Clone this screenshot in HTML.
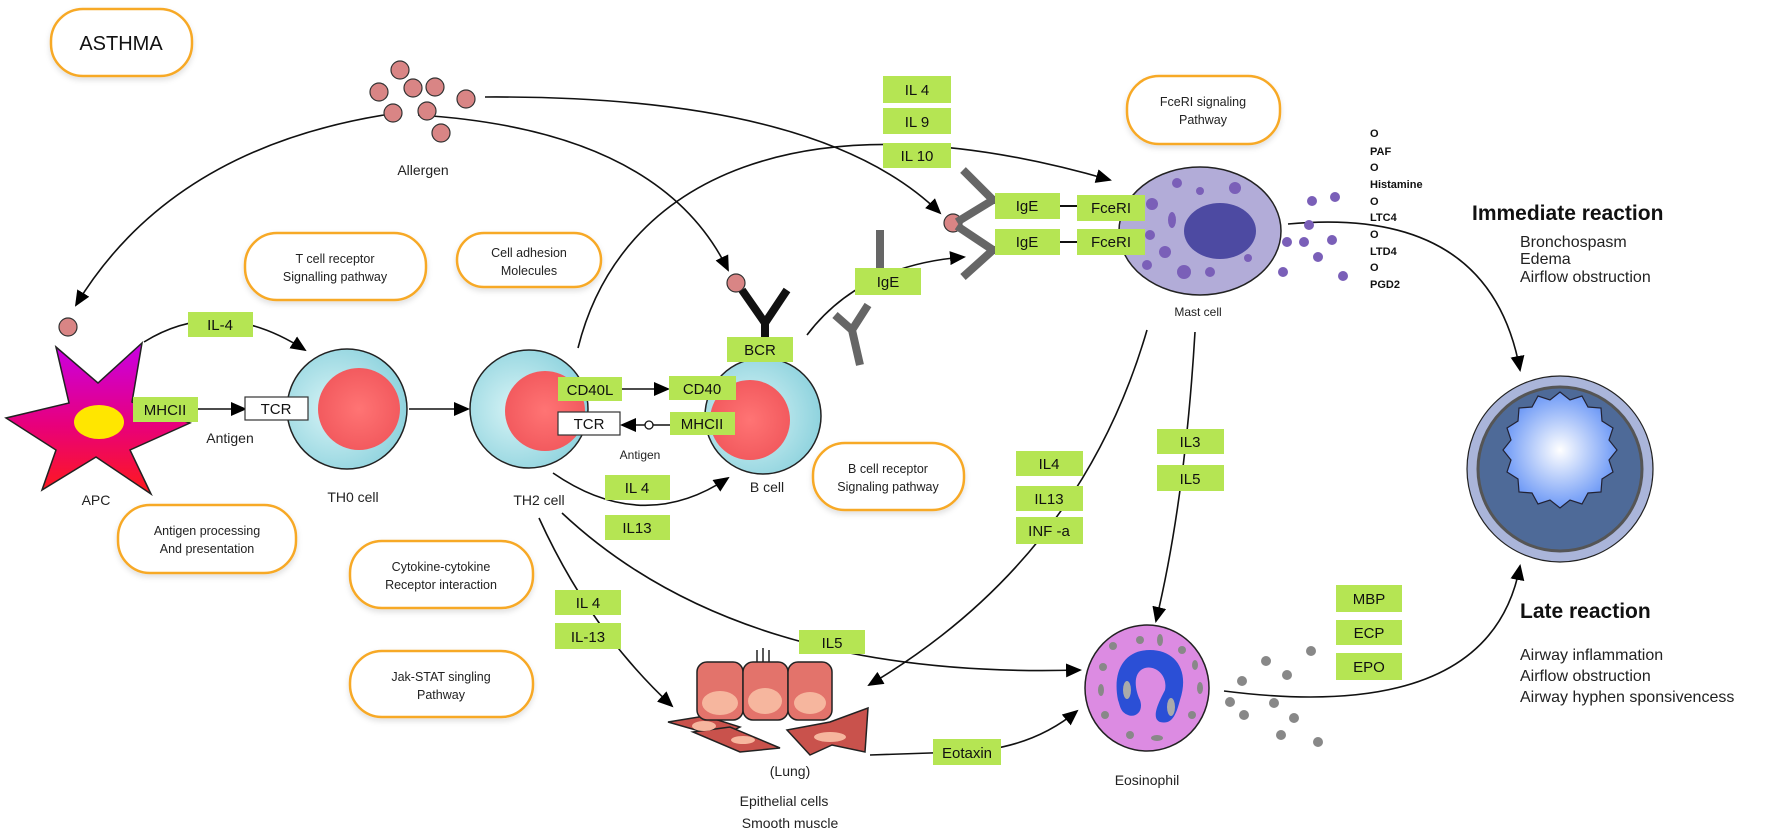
<!DOCTYPE html>
<html><head><meta charset="utf-8"><style>
html,body{margin:0;padding:0;background:#fff;}
svg{display:block;font-family:"Liberation Sans",sans-serif;}
.pill{fill:#fff;stroke:#f7a928;stroke-width:2.5;filter:url(#sh);}
.pt{font-size:12.5px;text-anchor:middle;fill:#222;}
.g{fill:#b5e553;}
.gt{font-size:15px;text-anchor:middle;fill:#111;}
.ln{fill:none;stroke:#111;stroke-width:1.6;}
.lb{font-size:14px;text-anchor:middle;fill:#222;}
.med{font-size:11px;font-weight:bold;fill:#111;}
.rt{font-size:16px;fill:#222;}
</style></head><body>
<svg width="1770" height="835" viewBox="0 0 1770 835" xmlns="http://www.w3.org/2000/svg">
<defs>
<filter id="sh" x="-20%" y="-20%" width="140%" height="150%"><feDropShadow dx="0" dy="3" stdDeviation="3" flood-color="#000" flood-opacity="0.12"/></filter>
<marker id="ar" markerWidth="16" markerHeight="14" refX="14" refY="7" orient="auto" markerUnits="userSpaceOnUse"><path d="M0,0 L16,7 L0,14 Z" fill="#000"/></marker>
<radialGradient id="apc" cx="0.5" cy="0" r="1"><stop offset="0" stop-color="#c400e0"/><stop offset="1" stop-color="#ff1030"/></radialGradient>
<linearGradient id="apcg" x1="0" y1="0" x2="0" y2="1"><stop offset="0" stop-color="#c800e6"/><stop offset="0.55" stop-color="#e8007a"/><stop offset="1" stop-color="#ff1a1a"/></linearGradient>
<radialGradient id="tc" cx="0.4" cy="0.5" r="0.6"><stop offset="0" stop-color="#d8f4f6"/><stop offset="1" stop-color="#8fd3de"/></radialGradient>
<radialGradient id="rd" cx="0.5" cy="0.5" r="0.6"><stop offset="0" stop-color="#ff7474"/><stop offset="1" stop-color="#f0555a"/></radialGradient>
<radialGradient id="aw" cx="0.5" cy="0.5" r="0.55"><stop offset="0" stop-color="#ffffff"/><stop offset="1" stop-color="#5f8ff5"/></radialGradient>
</defs>

<!-- pills -->
<rect class="pill" x="51" y="9" width="141" height="67" rx="32"/>
<text x="121" y="50" font-size="20" text-anchor="middle" fill="#111">ASTHMA</text>
<rect class="pill" x="245" y="233" width="181" height="67" rx="32"/>
<text class="pt" x="335" y="263">T cell receptor</text><text class="pt" x="335" y="281">Signalling pathway</text>
<rect class="pill" x="457" y="233" width="144" height="54" rx="27"/>
<text class="pt" x="529" y="257">Cell adhesion</text><text class="pt" x="529" y="275">Molecules</text>
<rect class="pill" x="1127" y="76" width="153" height="68" rx="32"/>
<text class="pt" x="1203" y="106">FceRI signaling</text><text class="pt" x="1203" y="124">Pathway</text>
<rect class="pill" x="813" y="443" width="151" height="67" rx="32"/>
<text class="pt" x="888" y="473">B cell receptor</text><text class="pt" x="888" y="491">Signaling pathway</text>
<rect class="pill" x="118" y="505" width="178" height="68" rx="32"/>
<text class="pt" x="207" y="535">Antigen processing</text><text class="pt" x="207" y="553">And presentation</text>
<rect class="pill" x="350" y="541" width="183" height="67" rx="32"/>
<text class="pt" x="441" y="571">Cytokine-cytokine</text><text class="pt" x="441" y="589">Receptor interaction</text>
<rect class="pill" x="350" y="651" width="183" height="66" rx="32"/>
<text class="pt" x="441" y="681">Jak-STAT singling</text><text class="pt" x="441" y="699">Pathway</text>

<!-- connectors -->
<path class="ln" d="M384,115 Q170,150 76,305" marker-end="url(#ar)"/>
<path class="ln" d="M418,115 Q660,130 728,270" marker-end="url(#ar)"/>
<path class="ln" d="M485,97 Q820,95 940,213" marker-end="url(#ar)"/>
<path class="ln" d="M578,348 C620,180 800,90 1110,180" marker-end="url(#ar)"/>
<path class="ln" d="M144,342 Q220,295 305,350" marker-end="url(#ar)"/>
<path class="ln" d="M198,409 L245,409" marker-end="url(#ar)"/>
<path class="ln" d="M409,409 L468,409" marker-end="url(#ar)"/>
<path class="ln" d="M622,389 L668,389" marker-end="url(#ar)"/>
<path class="ln" d="M670,425 L622,425" marker-end="url(#ar)"/>
<circle cx="649" cy="425" r="4" fill="#fff" stroke="#111" stroke-width="1.3"/>
<path class="ln" d="M553,473 Q643,535 728,478" marker-end="url(#ar)"/>
<path class="ln" d="M807,335 Q860,265 964,257" marker-end="url(#ar)"/>
<path class="ln" d="M539,518 Q590,630 672,706" marker-end="url(#ar)"/>
<path class="ln" d="M562,513 Q740,680 1080,670" marker-end="url(#ar)"/>
<path class="ln" d="M1147,330 Q1080,560 869,685" marker-end="url(#ar)"/>
<path class="ln" d="M1195,332 Q1185,500 1156,621" marker-end="url(#ar)"/>
<path class="ln" d="M870,755 L960,752 Q1030,750 1077,711" marker-end="url(#ar)"/>
<path class="ln" d="M1288,224 Q1490,205 1520,370" marker-end="url(#ar)"/>
<path class="ln" d="M1224,691 Q1490,725 1520,566" marker-end="url(#ar)"/>
<line x1="1060" y1="206" x2="1077" y2="206" stroke="#111" stroke-width="2"/>
<line x1="1060" y1="242" x2="1077" y2="242" stroke="#111" stroke-width="2"/>

<!-- allergen -->
<g fill="#d98585" stroke="#333" stroke-width="1.2">
<circle cx="400" cy="70" r="9"/><circle cx="379" cy="92" r="9"/><circle cx="413" cy="88" r="9"/><circle cx="435" cy="87" r="9"/>
<circle cx="466" cy="99" r="9"/><circle cx="393" cy="113" r="9"/><circle cx="427" cy="111" r="9"/><circle cx="441" cy="133" r="9"/>
<circle cx="68" cy="327" r="9"/><circle cx="736" cy="283" r="9"/><circle cx="953" cy="223" r="9"/>
</g>
<text class="lb" x="423" y="175">Allergen</text>

<!-- APC -->
<path d="M56,347 L98,383 L142,343 L132,402 L190,423 L130,450 L151,494 L96,457 L42,490 L56,450 L6,418 L69,403 Z" fill="url(#apcg)" stroke="#222" stroke-width="1.5"/>
<ellipse cx="99" cy="422" rx="25" ry="17" fill="#ffe600"/>
<text class="lb" x="96" y="505">APC</text>

<!-- TH0 -->
<circle cx="347" cy="409" r="60" fill="url(#tc)" stroke="#222" stroke-width="1.5"/>
<circle cx="359" cy="409" r="41" fill="url(#rd)"/>
<text class="lb" x="353" y="502">TH0 cell</text>
<!-- TH2 -->
<circle cx="529" cy="409" r="59" fill="url(#tc)" stroke="#222" stroke-width="1.5"/>
<circle cx="545" cy="411" r="40" fill="url(#rd)"/>
<text class="lb" x="539" y="505">TH2 cell</text>
<!-- B cell -->
<circle cx="763" cy="416" r="58" fill="url(#tc)" stroke="#222" stroke-width="1.5"/>
<circle cx="750" cy="420" r="40" fill="url(#rd)"/>
<text class="lb" x="767" y="492">B cell</text>
<path d="M742,290 L765,323 L787,290 M765,322 L765,340" stroke="#111" stroke-width="8" fill="none"/>

<!-- gray antibodies -->
<g stroke="#666" stroke-width="8" fill="none">
<path d="M963,170 L993,200 L1035,200 M957,222 L993,200"/>
<path d="M963,277 L993,250 L1035,250 M957,226 L993,250"/>
<path d="M880,230 L880,270 L900,285 M880,270 L865,290"/>
<path d="M868,305 L852,330 L860,365 M852,330 L835,315"/>
</g>

<!-- mast cell -->
<ellipse cx="1200" cy="231" rx="81" ry="64" fill="#b2acd8" stroke="#222" stroke-width="1.5"/>
<ellipse cx="1220" cy="231" rx="36" ry="28" fill="#4d4aa2"/>
<g fill="#7a5fb8">
<circle cx="1177" cy="183" r="5"/><circle cx="1200" cy="191" r="4"/><circle cx="1235" cy="188" r="6"/><circle cx="1152" cy="204" r="6"/>
<ellipse cx="1172" cy="220" rx="4" ry="8"/><circle cx="1150" cy="235" r="5"/><circle cx="1165" cy="252" r="6"/><circle cx="1147" cy="265" r="5"/>
<circle cx="1184" cy="272" r="7"/><circle cx="1210" cy="272" r="5"/><circle cx="1248" cy="258" r="4"/>
<circle cx="1312" cy="201" r="5"/><circle cx="1335" cy="197" r="5"/><circle cx="1309" cy="225" r="5"/><circle cx="1287" cy="242" r="5"/>
<circle cx="1304" cy="242" r="5"/><circle cx="1332" cy="240" r="5"/><circle cx="1318" cy="257" r="5"/><circle cx="1283" cy="272" r="5"/><circle cx="1343" cy="276" r="5"/>
</g>
<text x="1198" y="316" font-size="12" text-anchor="middle" fill="#222">Mast cell</text>
<g class="med">
<text x="1370" y="137">O</text><text x="1370" y="155">PAF</text><text x="1370" y="171">O</text><text x="1370" y="188">Histamine</text>
<text x="1370" y="205">O</text><text x="1370" y="221">LTC4</text><text x="1370" y="238">O</text><text x="1370" y="255">LTD4</text>
<text x="1370" y="271">O</text><text x="1370" y="288">PGD2</text>
</g>
<text x="1472" y="220" font-size="21" font-weight="bold" fill="#111">Immediate reaction</text>
<text class="rt" x="1520" y="247">Bronchospasm</text>
<text class="rt" x="1520" y="264">Edema</text>
<text class="rt" x="1520" y="282">Airflow obstruction</text>

<!-- airway -->
<circle cx="1560" cy="469" r="93" fill="#aab5da" stroke="#222" stroke-width="1.2"/>
<circle cx="1560" cy="469" r="82" fill="#4e6a98" stroke="#555" stroke-width="3"/>
<path d="M1560,392 l10,8 l12,-4 l6,11 l13,1 l1,13 l11,7 l-4,12 l8,10 l-8,10 l4,12 l-11,7 l-1,13 l-13,1 l-6,11 l-12,-4 l-10,8 l-10,-8 l-12,4 l-6,-11 l-13,-1 l-1,-13 l-11,-7 l4,-12 l-8,-10 l8,-10 l-4,-12 l11,-7 l1,-13 l13,-1 l6,-11 l12,4 Z" fill="url(#aw)" stroke="#223" stroke-width="1.2"/>
<text x="1520" y="618" font-size="21" font-weight="bold" fill="#111">Late reaction</text>
<text class="rt" x="1520" y="660">Airway inflammation</text>
<text class="rt" x="1520" y="681">Airflow obstruction</text>
<text class="rt" x="1520" y="702">Airway hyphen sponsivencess</text>

<!-- eosinophil -->
<ellipse cx="1147" cy="688" rx="62" ry="63" fill="#dc8be2" stroke="#222" stroke-width="1.5"/>
<path d="M1118,700 C1112,670 1125,650 1150,650 C1175,650 1190,670 1180,700 C1176,715 1172,725 1160,722 C1150,718 1160,700 1165,690 C1168,675 1155,665 1145,668 C1132,672 1135,690 1140,700 C1144,712 1135,718 1128,715 C1120,712 1120,705 1118,700 Z" fill="#2b4fd6"/>
<ellipse cx="1127" cy="690" rx="4" ry="9" fill="#aaa"/><ellipse cx="1171" cy="707" rx="4" ry="9" fill="#aaa"/>
<g fill="#888">
<circle cx="1113" cy="646" r="4"/><circle cx="1140" cy="640" r="4"/><ellipse cx="1160" cy="640" rx="3" ry="6"/><circle cx="1182" cy="650" r="4"/>
<ellipse cx="1195" cy="665" rx="3" ry="5"/><ellipse cx="1200" cy="688" rx="3" ry="6"/><circle cx="1192" cy="715" r="4"/><ellipse cx="1157" cy="738" rx="6" ry="3"/>
<circle cx="1103" cy="667" r="4"/><ellipse cx="1101" cy="690" rx="3" ry="6"/><circle cx="1105" cy="715" r="4"/><circle cx="1130" cy="735" r="4"/>
<circle cx="1311" cy="651" r="5"/><circle cx="1266" cy="661" r="5"/><circle cx="1287" cy="675" r="5"/><circle cx="1242" cy="681" r="5"/>
<circle cx="1230" cy="702" r="5"/><circle cx="1274" cy="703" r="5"/><circle cx="1244" cy="715" r="5"/><circle cx="1294" cy="718" r="5"/>
<circle cx="1281" cy="735" r="5"/><circle cx="1318" cy="742" r="5"/>
</g>
<text class="lb" x="1147" y="785">Eosinophil</text>

<!-- epithelium -->
<g stroke="#222" stroke-width="1.5">
<path d="M668,722 L705,716 L740,727 L720,737 Z" fill="#c9524c"/>
<path d="M693,732 L730,727 L780,748 L740,752 Z" fill="#c9524c"/>
<path d="M787,730 L830,722 L868,708 L865,752 L832,745 L810,755 Z" fill="#c9524c"/>
<rect x="697" y="662" width="46" height="58" rx="10" fill="#e3736b"/>
<rect x="743" y="662" width="45" height="58" rx="10" fill="#e3736b"/>
<rect x="788" y="662" width="44" height="58" rx="10" fill="#e3736b"/>
<path d="M757,662 V650 M763,662 V648 M769,662 V650" fill="none"/>
</g>
<g fill="#f6b69e"><ellipse cx="720" cy="703" rx="18" ry="12"/><ellipse cx="765" cy="701" rx="17" ry="13"/><ellipse cx="810" cy="703" rx="16" ry="11"/>
<ellipse cx="704" cy="726" rx="12" ry="5"/><ellipse cx="743" cy="740" rx="12" ry="4"/><ellipse cx="830" cy="737" rx="16" ry="5"/></g>
<text class="lb" x="790" y="776">(Lung)</text>
<text class="lb" x="784" y="806">Epithelial cells</text>
<text class="lb" x="790" y="828">Smooth muscle</text>

<!-- green labels -->
<g>
<rect class="g" x="188" y="312" width="65" height="25"/><text class="gt" x="220" y="330">IL-4</text>
<rect class="g" x="133" y="397" width="65" height="25"/><text class="gt" x="165" y="415">MHCII</text>
<rect x="245" y="397" width="63" height="23" fill="#fff" stroke="#333" stroke-width="1.2"/><text class="gt" x="276" y="414">TCR</text>
<text class="lb" x="230" y="443">Antigen</text>
<rect class="g" x="558" y="377" width="64" height="24"/><text class="gt" x="590" y="395">CD40L</text>
<rect class="g" x="669" y="376" width="67" height="24"/><text class="gt" x="702" y="394">CD40</text>
<rect x="558" y="412" width="62" height="23" fill="#fff" stroke="#333" stroke-width="1.2"/><text class="gt" x="589" y="429">TCR</text>
<rect class="g" x="670" y="412" width="65" height="23"/><text class="gt" x="702" y="429">MHCII</text>
<text x="640" y="459" font-size="12" text-anchor="middle" fill="#222">Antigen</text>
<rect class="g" x="727" y="337" width="66" height="25"/><text class="gt" x="760" y="355">BCR</text>
<rect class="g" x="605" y="475" width="65" height="25"/><text class="gt" x="637" y="493">IL 4</text>
<rect class="g" x="605" y="515" width="65" height="25"/><text class="gt" x="637" y="533">IL13</text>
<rect class="g" x="555" y="590" width="66" height="25"/><text class="gt" x="588" y="608">IL 4</text>
<rect class="g" x="555" y="623" width="66" height="26"/><text class="gt" x="588" y="642">IL-13</text>
<rect class="g" x="799" y="630" width="66" height="24"/><text class="gt" x="832" y="648">IL5</text>
<rect class="g" x="933" y="739" width="68" height="26"/><text class="gt" x="967" y="758">Eotaxin</text>
<rect class="g" x="855" y="268" width="66" height="27"/><text class="gt" x="888" y="287">IgE</text>
<rect class="g" x="883" y="76" width="68" height="27"/><text class="gt" x="917" y="95">IL 4</text>
<rect class="g" x="883" y="108" width="68" height="26"/><text class="gt" x="917" y="127">IL 9</text>
<rect class="g" x="883" y="143" width="68" height="25"/><text class="gt" x="917" y="161">IL 10</text>
<rect class="g" x="995" y="193" width="65" height="26"/><text class="gt" x="1027" y="211">IgE</text>
<rect class="g" x="995" y="229" width="65" height="26"/><text class="gt" x="1027" y="247">IgE</text>
<rect class="g" x="1077" y="195" width="68" height="26"/><text class="gt" x="1111" y="213">FceRI</text>
<rect class="g" x="1077" y="229" width="68" height="26"/><text class="gt" x="1111" y="247">FceRI</text>
<rect class="g" x="1016" y="451" width="67" height="25"/><text class="gt" x="1049" y="469">IL4</text>
<rect class="g" x="1016" y="486" width="67" height="25"/><text class="gt" x="1049" y="504">IL13</text>
<rect class="g" x="1016" y="517" width="67" height="27"/><text class="gt" x="1049" y="536">INF -a</text>
<rect class="g" x="1157" y="429" width="67" height="25"/><text class="gt" x="1190" y="447">IL3</text>
<rect class="g" x="1157" y="465" width="67" height="26"/><text class="gt" x="1190" y="484">IL5</text>
<rect class="g" x="1336" y="585" width="66" height="27"/><text class="gt" x="1369" y="604">MBP</text>
<rect class="g" x="1336" y="620" width="66" height="25"/><text class="gt" x="1369" y="638">ECP</text>
<rect class="g" x="1336" y="653" width="66" height="27"/><text class="gt" x="1369" y="672">EPO</text>
</g>
</svg>
</body></html>
